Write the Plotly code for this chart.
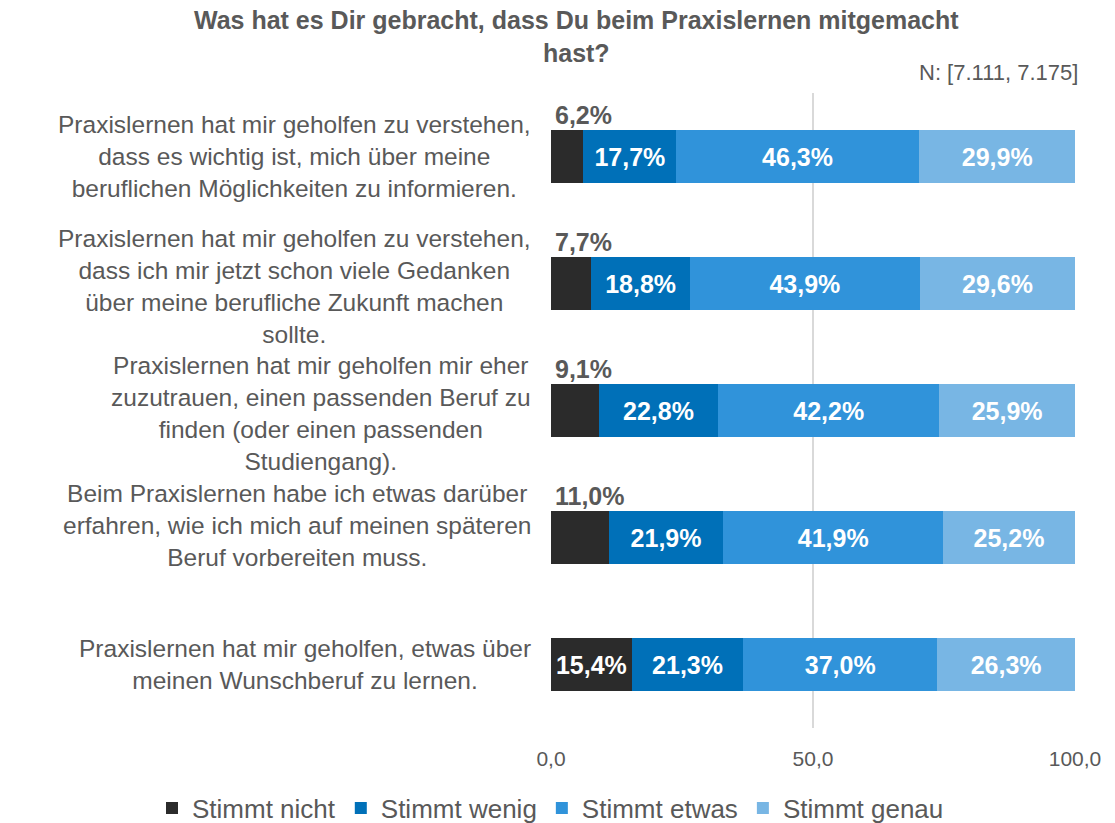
import plotly.graph_objects as go

#   Data
statements = [
    'Praxislernen hat mir geholfen zu verstehen,<br>dass es wichtig ist, mich über meine<br>beruflichen Möglichkeiten zu informieren.',
    'Praxislernen hat mir geholfen zu verstehen,<br>dass ich mir jetzt schon viele Gedanken<br>über meine berufliche Zukunft machen<br>sollte.',
    'Praxislernen hat mir geholfen mir eher<br>zuzutrauen, einen passenden Beruf zu<br>finden (oder einen passenden<br>Studiengang).',
    'Beim Praxislernen habe ich etwas darüber<br>erfahren, wie ich mich auf meinen späteren<br>Beruf vorbereiten muss.',
    'Praxislernen hat mir geholfen, etwas über<br>meinen Wunschberuf zu lernen.',
]
stimmt_nicht = [6.2, 7.7, 9.1, 11.0, 15.4]
stimmt_wenig = [17.7, 18.8, 22.8, 21.9, 21.3]
stimmt_etwas = [46.3, 43.9, 42.2, 41.9, 37.0]
stimmt_genau = [29.9, 29.6, 25.9, 25.2, 26.3]
series_names = ['Stimmt nicht', 'Stimmt wenig', 'Stimmt etwas', 'Stimmt genau']
x_ticks = [0, 50, 100]

colors = ['#2B2B2B', '#0070B8', '#3093DA', '#78B6E4']
FONT = 'Liberation Sans, Arial, sans-serif'


def pct(v):
    return f'{v:.1f}'.replace('.', ',') + '%'


fig = go.Figure()
for name, vals, col in zip(series_names,
                           [stimmt_nicht, stimmt_wenig, stimmt_etwas, stimmt_genau],
                           colors):
    if name == 'Stimmt nicht':
        # small segments get their label above the bar
        texts = [pct(v) if v >= 15 else '' for v in vals]
    else:
        texts = [pct(v) for v in vals]
    fig.add_trace(go.Bar(
        y=statements, x=vals, name=name, orientation='h',
        marker=dict(color=col, line=dict(width=0)),
        text=texts, textposition='inside', insidetextanchor='middle',
        textangle=0,
        textfont=dict(family=FONT, size=25, color='white', weight='bold'),
        hoverinfo='skip',
    ))

#   Labels above the small black segments
for s, v in zip(statements, stimmt_nicht):
    if v < 15:
        fig.add_annotation(x=0, y=s, xref='x', yref='y', text='<b>' + pct(v) + '</b>',
                           showarrow=False, xanchor='left', yanchor='middle',
                           xshift=2, yshift=42,
                           font=dict(family=FONT, size=25, color='#595959'))

#   Category labels, centred per block (Excel nudges the 4th one up a bit)
for i, s in enumerate(statements):
    fig.add_annotation(x=0, y=s, xref='paper', yref='y', text=s,
                       showarrow=False, xanchor='right', yanchor='middle',
                       align='center', xshift=-18, yshift=12 if i == 3 else -3 if i in (1, 2) else 0,
                       font=dict(family=FONT, size=24.5, color='#595959'))

#   Title and sample size
fig.add_annotation(x=(576 - 551) / 524, y=1 + (93 - 4) / 635, xref='paper', yref='paper',
                   text='<b>Was hat es Dir gebracht, dass Du beim Praxislernen mitgemacht<br>hast?</b>',
                   showarrow=False, xanchor='center', yanchor='top', align='center',
                   font=dict(family=FONT, size=25, color='#595959'))
fig.add_annotation(x=1, y=1.033, xref='paper', yref='paper', text='N: [7.111, 7.175]',
                   showarrow=False, xanchor='right', yanchor='middle', xshift=5,
                   font=dict(family=FONT, size=22, color='#595959'))

fig.update_layout(
    width=1115, height=823,
    barmode='stack', bargap=0.59,
    separators=',.',
    paper_bgcolor='white', plot_bgcolor='white',
    margin=dict(l=551, r=40, t=93, b=95, autoexpand=False),
    font=dict(family=FONT, color='#595959'),
    xaxis=dict(range=[0, 100], tickvals=x_ticks, tickformat='.1f',
               showgrid=True, gridcolor='#D9D9D9', gridwidth=2,
               zeroline=False, showline=False,
               ticklabelstandoff=16,
               tickfont=dict(family=FONT, size=21, color='#595959')),
    yaxis=dict(autorange='reversed', showticklabels=False, showgrid=False,
               zeroline=False, showline=False),
    legend=dict(orientation='h', x=(152 - 551) / 524, xanchor='left',
                y=-(808 - 728) / 635, yanchor='middle',
                font=dict(family=FONT, size=26, color='#595959'),
                traceorder='normal'),
)

fig.write_html('out.html', config={'displayModeBar': False},
               post_script="document.body.style.margin='0';")
